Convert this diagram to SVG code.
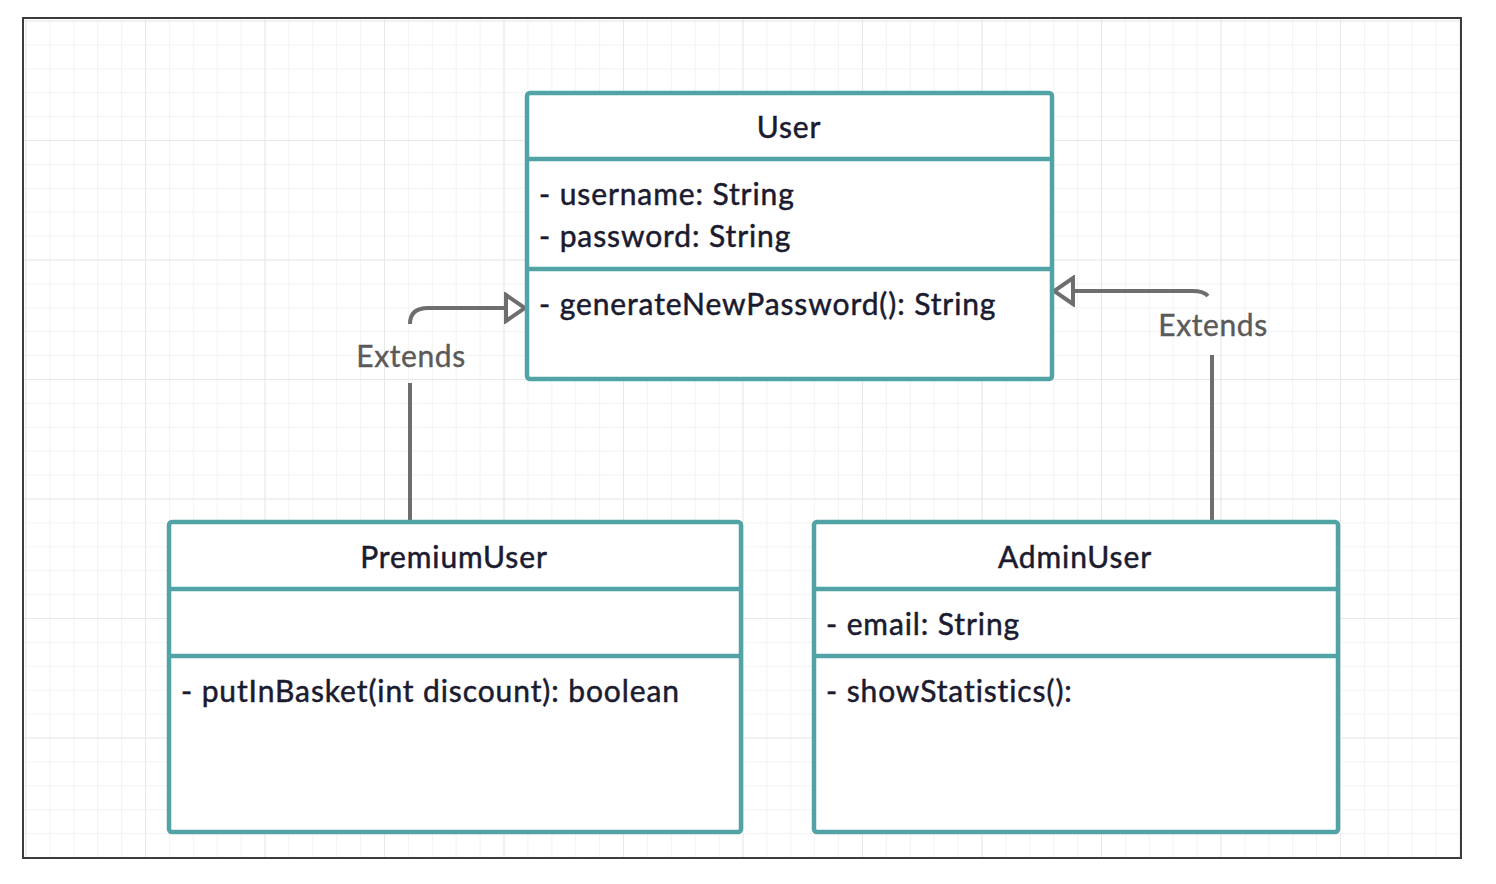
<svg xmlns="http://www.w3.org/2000/svg" width="1496" height="884" viewBox="0 0 1496 884">
  <defs>
    <pattern id="minor" x="25.5" y="20.5" width="23.9" height="23.9" patternUnits="userSpaceOnUse">
      <path d="M0 0 H23.9 M0 0 V23.9" fill="none" stroke="#f3f3f3" stroke-width="2"/>
    </pattern>
    <pattern id="major" x="25.5" y="20.5" width="119.5" height="119.5" patternUnits="userSpaceOnUse">
      <path d="M0 0 H119.5 M0 0 V119.5" fill="none" stroke="#e8e8e8" stroke-width="2"/>
    </pattern>
    <marker id="tri" viewBox="0 0 24 32" refX="21" refY="16" markerWidth="24" markerHeight="32" markerUnits="userSpaceOnUse" orient="auto">
      <path d="M2 3 L21 16 L2 29 Z" fill="#ffffff" stroke="#6e6e6e" stroke-width="4" stroke-linejoin="miter"/>
    </marker>
  </defs>
  <style>
    .box { fill: #ffffff; stroke: #52a3a5; stroke-width: 4.5; }
    .div { stroke: #52a3a5; stroke-width: 4.5; }
    .t { font-family: Lato, "Open Sans", "Liberation Sans", sans-serif; font-size: 30px; fill: #1b1b30; stroke: #1b1b30; stroke-width: 0.5; letter-spacing: 0.9px; }
    .h { text-anchor: middle; }
    .lbl { font-family: Lato, "Open Sans", "Liberation Sans", sans-serif; font-size: 30px; fill: #5a5a5a; stroke: #5a5a5a; stroke-width: 0.4; letter-spacing: 0.6px; text-anchor: middle; }
    .edge { fill: none; stroke: #6e6e6e; stroke-width: 4; }
  </style>
  <rect x="0" y="0" width="1496" height="884" fill="#ffffff"/>
  <rect x="23" y="18" width="1438" height="840" fill="#ffffff"/>
  <rect x="23" y="18" width="1438" height="840" fill="url(#minor)"/>
  <rect x="23" y="18" width="1438" height="840" fill="url(#major)"/>
  <rect x="23" y="18" width="1438" height="840" fill="none" stroke="#3c3c3c" stroke-width="2"/>

  <g id="connectors">
    <g id="edge-premium">
      <path class="edge" d="M410 520 V383"/>
      <path class="edge" d="M410 324 Q410 308 428 308 H525" marker-end="url(#tri)"/>
      <text class="lbl" x="411" y="367">Extends</text>
    </g>
    <g id="edge-admin">
      <path class="edge" d="M1212 520 V355"/>
      <path class="edge" d="M1208 296 Q1204 291 1192 291 H1054" marker-end="url(#tri)"/>
      <text class="lbl" x="1213" y="336">Extends</text>
    </g>
  </g>

  <g id="User">
    <rect class="box" x="527" y="93" width="525" height="286" rx="3"/>
    <line class="div" x1="527" y1="159" x2="1052" y2="159"/>
    <line class="div" x1="527" y1="269" x2="1052" y2="269"/>
    <text class="t h" x="789" y="138">User</text>
    <text class="t" x="539" y="205">- username: String</text>
    <text class="t" x="539" y="247">- password: String</text>
    <text class="t" x="539" y="315">- generateNewPassword(): String</text>
  </g>

  <g id="PremiumUser">
    <rect class="box" x="169" y="522" width="572" height="310" rx="3"/>
    <line class="div" x1="169" y1="589" x2="741" y2="589"/>
    <line class="div" x1="169" y1="656" x2="741" y2="656"/>
    <text class="t h" x="454" y="568">PremiumUser</text>
    <text class="t" x="181" y="702">- putInBasket(int discount): boolean</text>
  </g>

  <g id="AdminUser">
    <rect class="box" x="814" y="522" width="524" height="310" rx="3"/>
    <line class="div" x1="814" y1="589" x2="1338" y2="589"/>
    <line class="div" x1="814" y1="656" x2="1338" y2="656"/>
    <text class="t h" x="1075" y="568">AdminUser</text>
    <text class="t" x="826" y="635">- email: String</text>
    <text class="t" x="826" y="702">- showStatistics():</text>
  </g>
</svg>
